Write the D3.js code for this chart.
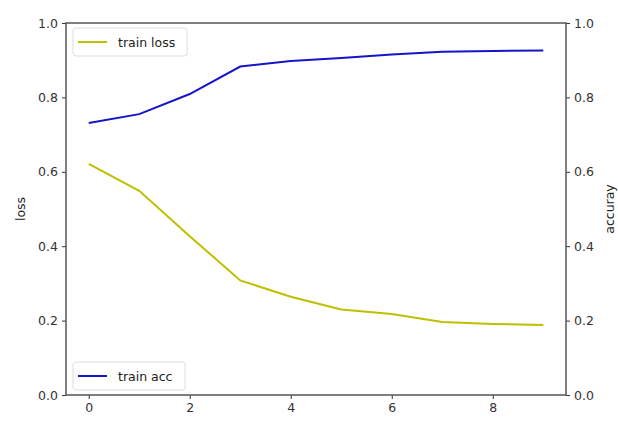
<!DOCTYPE html>
<html>
<head>
<meta charset="utf-8">
<script src="https://cdn.jsdelivr.net/npm/d3@7"></script>
<style>
  body { margin: 0; background: #fff; }
  text { font-family: "DejaVu Sans", sans-serif; }
</style>
</head>
<body>
<div id="chart"></div>
<script>
const epochs = [0, 1, 2, 3, 4, 5, 6, 7, 8, 9];
const trainLoss = [0.621, 0.549, 0.427, 0.308, 0.264, 0.230, 0.218, 0.196, 0.191, 0.188];
const trainAcc = [0.731, 0.755, 0.809, 0.883, 0.898, 0.906, 0.915, 0.923, 0.925, 0.926];
const xTicks = [0, 2, 4, 6, 8];
const yTicks = [0, 0.2, 0.4, 0.6, 0.8, 1.0];

const W = 618, H = 423;
const margin = { top: 23, right: 52, bottom: 28, left: 66 };
const width = W - margin.left - margin.right,
  height = H - margin.top - margin.bottom;

const svg = d3.select("#chart")
  .append("svg")
  .attr("width", W)
  .attr("height", H);

const g = svg.append("g")
  .attr("transform", `translate(${margin.left},${margin.top})`);

const x = d3.scaleLinear().domain([-0.45, 9.45]).range([0, width]);
const yLoss = d3.scaleLinear().domain([0, 1]).range([height, 0]);
const yAcc = d3.scaleLinear().domain([0, 1]).range([height, 0]);

const axisColor = "#555";
const fmt = d3.format(".1f");

function styleAxis(sel) {
  sel.select(".domain").remove();
  sel.selectAll(".tick line").attr("stroke", "#333");
  sel.selectAll(".tick text")
    .attr("fill", "#333")
    .style("font-size", "12.5px");
}

g.append("g")
  .attr("transform", `translate(0,${height})`)
  .call(d3.axisBottom(x).tickValues(xTicks).tickSize(4).tickPadding(4))
  .call(styleAxis);

g.append("g")
  .call(d3.axisLeft(yLoss).tickValues(yTicks).tickFormat(fmt).tickSize(4).tickPadding(4))
  .call(styleAxis);

g.append("g")
  .attr("transform", `translate(${width},0)`)
  .call(d3.axisRight(yAcc).tickValues(yTicks).tickFormat(fmt).tickSize(4).tickPadding(4))
  .call(styleAxis);

// frame
g.append("rect")
  .attr("x", 0)
  .attr("y", 0)
  .attr("width", width)
  .attr("height", height)
  .attr("fill", "none")
  .attr("stroke", axisColor)
  .attr("stroke-width", 1.5);

const lossLine = d3.line()
  .x((d, i) => x(epochs[i]))
  .y(d => yLoss(d));

const accLine = d3.line()
  .x((d, i) => x(epochs[i]))
  .y(d => yAcc(d));

g.append("path")
  .datum(trainLoss)
  .attr("fill", "none")
  .attr("stroke", "#bfbf00")
  .attr("stroke-width", 2)
  .attr("d", lossLine);

g.append("path")
  .datum(trainAcc)
  .attr("fill", "none")
  .attr("stroke", "#1515c8")
  .attr("stroke-width", 2)
  .attr("d", accLine);

// axis labels
svg.append("text")
  .attr("transform", `translate(25,${margin.top + height / 2}) rotate(-90)`)
  .attr("text-anchor", "middle")
  .attr("fill", "#222")
  .style("font-size", "12.5px")
  .text("loss");

svg.append("text")
  .attr("transform", `translate(614,${margin.top + height / 2}) rotate(-90)`)
  .attr("text-anchor", "middle")
  .attr("fill", "#222")
  .style("font-size", "12.5px")
  .text("accuray");

// legends
function legend(y0, label, color, w) {
  const lg = g.append("g").attr("transform", `translate(7,${y0})`);
  lg.append("rect")
    .attr("width", w)
    .attr("height", 28)
    .attr("rx", 3)
    .attr("fill", "#fff")
    .attr("stroke", "#ddd");
  lg.append("line")
    .attr("x1", 5).attr("x2", 34)
    .attr("y1", 14).attr("y2", 14)
    .attr("stroke", color)
    .attr("stroke-width", 2);
  lg.append("text")
    .attr("x", 45)
    .attr("y", 18.5)
    .attr("fill", "#222")
    .style("font-size", "12.5px")
    .text(label);
}

legend(5, "train loss", "#bfbf00", 114);
legend(height - 33, "train acc", "#1515c8", 112);
</script>
</body>
</html>
